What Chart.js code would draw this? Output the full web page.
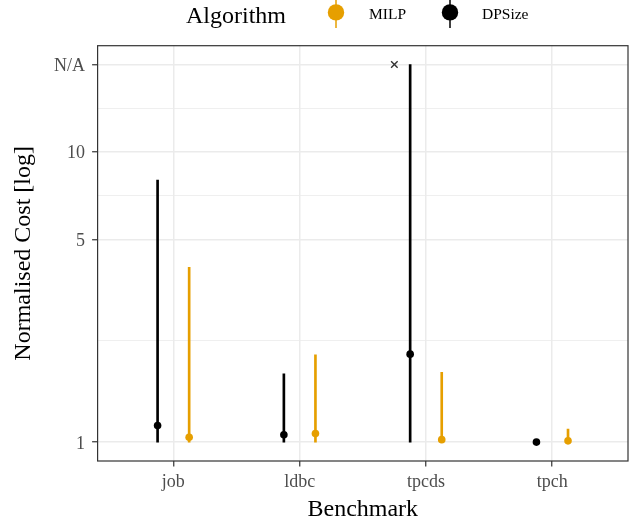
<!DOCTYPE html>
<html><head><meta charset="utf-8">
<script src="https://cdn.jsdelivr.net/npm/chart.js@4/dist/chart.umd.min.js"></script>
<style>html,body{margin:0;padding:0;background:#fff;} canvas{display:block;}</style>
</head><body>
<canvas id="c" width="634" height="523"></canvas>
<script>
// ---- data ----
const categories = ['job', 'ldbc', 'tpcds', 'tpch'];
const seriesNames = ['MILP', 'DPSize'];
const dpsizeMid  = [1.14, 1.06, 2.01, 1.00];
const dpsizeLow  = [1.00, 1.00, 1.00, 1.00];
const dpsizeHigh = [8.00, 1.72, 20.0, 1.00];
const milpMid    = [1.04, 1.07, 1.02, 1.01];
const milpLow    = [1.00, 1.00, 1.00, 1.00];
const milpHigh   = [4.00, 2.00, 1.74, 1.11];
const naMarkerCategories = ['tpcds'];
const yTickValues = [1, 5, 10, 20];
const yTickLabels = ['1', '5', '10', 'N/A'];
const xTitle = 'Benchmark';
const yTitle = 'Normalised Cost [log]';
const legendTitle = 'Algorithm';

// ---- styles ----
const FONT = "'Liberation Serif', 'DejaVu Serif', serif";
const COL = { MILP: '#E69F00', DPSize: '#000000' };
const DODGE = 0.125;
const NA_OFFSET = -0.25;

const naValue = yTickValues[yTickLabels.indexOf('N/A')];
const logMin = 0, logMax = Math.log10(yTickValues[yTickValues.length - 1]);
const expand = (logMax - logMin) * 0.05;

const minorTicks = [];
for (let i = 0; i < yTickValues.length - 1; i++) minorTicks.push(Math.sqrt(yTickValues[i] * yTickValues[i + 1]));

const pts = (mid, off) => mid.map((v, i) => ({ x: i + 1 + off, y: v }));
const rng = (lo, hi, off) => lo.map((v, i) => ({ x: i + 1 + off, y: [v, hi[i]] }));

const panelPlugin = {
  id: 'panel',
  afterDraw(chart) {
    const { ctx, chartArea: a } = chart;
    ctx.save();
    ctx.strokeStyle = '#333333';
    ctx.lineWidth = 1.2;
    ctx.strokeRect(a.left, a.top, a.right - a.left, a.bottom - a.top);
    // legend
    ctx.fillStyle = '#000';
    ctx.textBaseline = 'alphabetic';
    ctx.textAlign = 'left';
    ctx.font = `24px ${FONT}`;
    ctx.fillText(legendTitle, 186, 22.7);
    const keys = [{ name: 'MILP', kx: 336, tx: 369 }, { name: 'DPSize', kx: 450, tx: 482 }];
    keys.forEach(k => {
      ctx.strokeStyle = COL[k.name];
      ctx.lineWidth = 1.5;
      ctx.beginPath(); ctx.moveTo(k.kx, 0); ctx.lineTo(k.kx, 28); ctx.stroke();
      ctx.fillStyle = COL[k.name];
      ctx.beginPath(); ctx.arc(k.kx, 12.4, 8.2, 0, Math.PI * 2); ctx.fill();
      ctx.fillStyle = '#000';
      ctx.font = `15.5px ${FONT}`;
      ctx.fillText(k.name, k.tx, 19.4);
    });
    ctx.restore();
  }
};

new Chart(document.getElementById('c'), {
  type: 'scatter',
  data: {
    datasets: [
      { type: 'scatter', label: 'DPSize', data: pts(dpsizeMid, -DODGE), backgroundColor: COL.DPSize, pointRadius: 3.8, pointBorderWidth: 0, pointHoverRadius: 3.8 },
      { type: 'scatter', label: 'MILP', data: pts(milpMid, DODGE), backgroundColor: COL.MILP, pointRadius: 3.8, pointBorderWidth: 0, pointHoverRadius: 3.8 },
      { type: 'scatter', label: 'N/A', data: naMarkerCategories.map(c => ({ x: categories.indexOf(c) + 1 + NA_OFFSET, y: naValue })),
        pointStyle: 'crossRot', pointRadius: 4.6, borderColor: '#333333', pointBorderWidth: 1.4, backgroundColor: '#333333' },
      { type: 'bar', label: 'DPSize range', data: rng(dpsizeLow, dpsizeHigh, -DODGE), backgroundColor: COL.DPSize, grouped: false, barThickness: 2, maxBarThickness: 2, borderWidth: 0 },
      { type: 'bar', label: 'MILP range', data: rng(milpLow, milpHigh, DODGE), backgroundColor: COL.MILP, grouped: false, barThickness: 2, maxBarThickness: 2, borderWidth: 0 }
    ]
  },
  options: {
    responsive: false,
    animation: false,
    devicePixelRatio: 1,
    layout: { padding: { top: 45.7, right: 5, left: 0, bottom: 0 } },
    plugins: { legend: { display: false }, tooltip: { enabled: false } },
    scales: {
      x: {
        type: 'linear', min: 0.4, max: categories.length + 0.6, offset: false,
        afterBuildTicks: s => { s.ticks = categories.map((c, i) => ({ value: i + 1 })); },
        afterFit: s => { s.height = 62; },
        ticks: { autoSkip: false, callback: v => categories[v - 1], font: { family: FONT, size: 18 }, color: '#4D4D4D', padding: 4.9, maxRotation: 0 },
        grid: { offset: false, color: '#EBEBEB', lineWidth: 1.5, tickColor: '#333333', tickLength: 5.5, tickWidth: 1.2 },
        border: { display: false },
        title: { display: true, text: xTitle, color: '#000', font: { family: FONT, size: 24, lineHeight: 1 }, padding: { top: 0, bottom: 1.4 } }
      },
      y: {
        type: 'logarithmic',
        min: Math.pow(10, logMin - expand), max: Math.pow(10, logMax + expand),
        afterBuildTicks: s => {
          const t = yTickValues.map(v => ({ value: v, isMinor: false }))
            .concat(minorTicks.map(v => ({ value: v, isMinor: true })));
          t.sort((a, b) => a.value - b.value);
          s.ticks = t;
        },
        afterFit: s => { s.width = 97.6; },
        ticks: {
          autoSkip: false,
          callback: v => { const i = yTickValues.indexOf(v); return i >= 0 ? yTickLabels[i] : ''; },
          font: { family: FONT, size: 18 }, color: '#4D4D4D', padding: 7, labelOffset: 1.8
        },
        grid: {
          color: '#EBEBEB',
          lineWidth: c => (c.tick && c.tick.isMinor) ? 0.8 : 1.5,
          tickColor: c => (c.tick && c.tick.isMinor) ? 'rgba(0,0,0,0)' : '#333333',
          tickLength: 5.5, tickWidth: 1.2
        },
        border: { display: false },
        title: { display: true, text: yTitle, color: '#000', font: { family: FONT, size: 24, lineHeight: 1 }, padding: { top: 11.6, bottom: 0 } }
      }
    }
  },
  plugins: [panelPlugin]
});
</script>
</body></html>
